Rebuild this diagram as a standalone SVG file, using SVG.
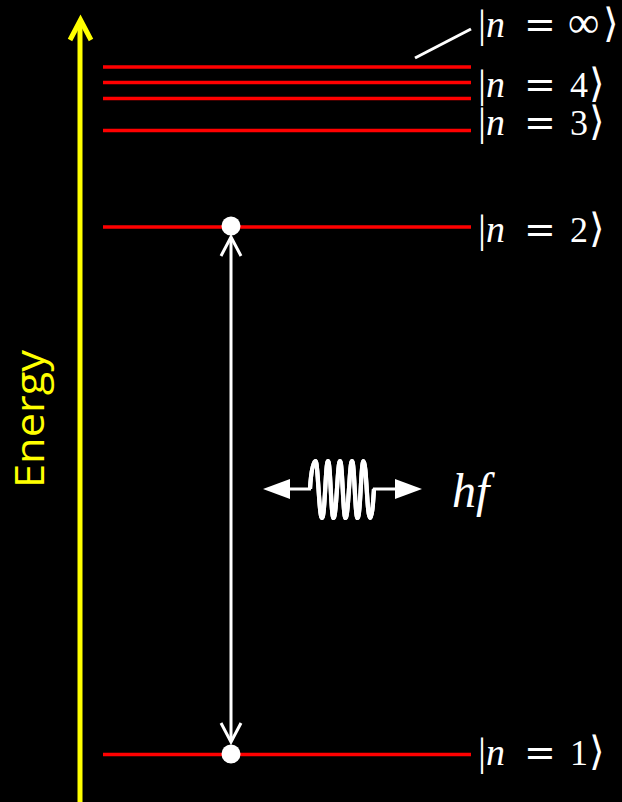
<svg xmlns="http://www.w3.org/2000/svg" width="622" height="802" viewBox="0 0 622 802">
  <defs>
    <style>
      .lvl { stroke: #ff0000; stroke-width: 3.6; fill: none; }
      .wht { stroke: #ffffff; stroke-width: 3; fill: none; stroke-linecap: butt; }
      .lbl { fill: #ffffff; font-family: "Liberation Serif", "DejaVu Serif", serif; font-size: 34px; }
      .bar { font-size: 40px; }
      .it { font-style: italic; font-size: 38px; }
      .eq { font-family: "DejaVu Sans", sans-serif; font-size: 38px; }
      .dg { font-size: 36px; }
      .br { font-family: "DejaVu Serif", "DejaVu Sans", serif; font-size: 40px; }
    </style>
  </defs>
  <rect width="622" height="802" fill="#000000"/>

  <g id="energy-axis">
    <line x1="80" y1="802" x2="80" y2="22" stroke="#ffff00" stroke-width="5"/>
    <polyline points="70,40 80.5,20 91,40" fill="none" stroke="#ffff00" stroke-width="5" stroke-linejoin="miter"/>
    <text transform="translate(44,419) rotate(-90)" text-anchor="middle" fill="#ffff00" font-family="'Open Sans', 'Liberation Sans', sans-serif" font-size="40" textLength="138" lengthAdjust="spacingAndGlyphs">Energy</text>
  </g>

  <g id="level-inf">
    <line class="lvl" x1="103" y1="67" x2="471" y2="67"/>
    <text class="lbl" y="37"><tspan class="bar" x="478">|</tspan><tspan class="it" x="486">n</tspan><tspan class="eq" x="524">=</tspan><tspan font-size="44" x="568">∞</tspan><tspan class="br" x="603">⟩</tspan></text>
  </g>
  <g id="level-4">
    <line class="lvl" x1="103" y1="82.5" x2="471" y2="82.5"/>
    <text class="lbl" y="97"><tspan class="bar" x="478">|</tspan><tspan class="it" x="486">n</tspan><tspan class="eq" x="524">=</tspan><tspan class="dg" x="570">4</tspan><tspan class="br" x="589">⟩</tspan></text>
  </g>
  <g id="level-3">
    <line class="lvl" x1="103" y1="98.5" x2="471" y2="98.5"/>
    <line class="lvl" x1="103" y1="130.5" x2="471" y2="130.5"/>
    <text class="lbl" y="135"><tspan class="bar" x="478">|</tspan><tspan class="it" x="486">n</tspan><tspan class="eq" x="524">=</tspan><tspan class="dg" x="570">3</tspan><tspan class="br" x="589">⟩</tspan></text>
  </g>
  <g id="level-2">
    <line class="lvl" x1="103" y1="227" x2="471" y2="227"/>
    <text class="lbl" y="242"><tspan class="bar" x="478">|</tspan><tspan class="it" x="486">n</tspan><tspan class="eq" x="524">=</tspan><tspan class="dg" x="570">2</tspan><tspan class="br" x="589">⟩</tspan></text>
  </g>
  <g id="level-1">
    <line class="lvl" x1="103" y1="754.5" x2="471" y2="754.5"/>
    <text class="lbl" y="765"><tspan class="bar" x="478">|</tspan><tspan class="it" x="486">n</tspan><tspan class="eq" x="524">=</tspan><tspan class="dg" x="570">1</tspan><tspan class="br" x="589">⟩</tspan></text>
  </g>

  <g id="connectors">
    <line class="wht" x1="415" y1="58" x2="471" y2="29"/>
    <line class="wht" x1="231" y1="238" x2="231" y2="741"/>
    <polyline class="wht" points="221,256 231,237 241,256"/>
    <polyline class="wht" points="221,723 231,742 241,723"/>
  </g>

  <g id="electron-top">
    <circle cx="231" cy="226" r="9.5" fill="#ffffff"/>
  </g>
  <g id="electron-bottom">
    <circle cx="231" cy="754" r="9.5" fill="#ffffff"/>
  </g>

  <g id="photon">
    <line x1="285" y1="489" x2="311" y2="489" stroke="#ffffff" stroke-width="3"/>
    <line x1="373" y1="489" x2="400" y2="489" stroke="#ffffff" stroke-width="3"/>
    <polygon points="263,489 290,479 290,499" fill="#ffffff"/>
    <polygon points="422,489 395,479 395,499" fill="#ffffff"/>
    <path id="wave" d="M310,489 C311,472 313,461 315.5,461 C318,461 319,518 322,518 C325,518 325.5,461 328,461 C330.5,461 331,518 333.5,518 C336.5,518 337.5,461 340,461 C342.5,461 343,518 345.5,518 C348.5,518 349.5,461 352,461 C354.5,461 355,518 357.5,518 C360.5,518 361,461 363.5,461 C366.5,461 367,518 370,518 C372,518 373,505 374,489" fill="none" stroke="#ffffff" stroke-width="4.2"/>
    <use href="#wave" stroke="#000000" stroke-width="1.1"/>
    <text x="452" y="507" fill="#ffffff" font-family="'Liberation Serif', serif" font-style="italic" font-size="48">hf</text>
  </g>
</svg>
